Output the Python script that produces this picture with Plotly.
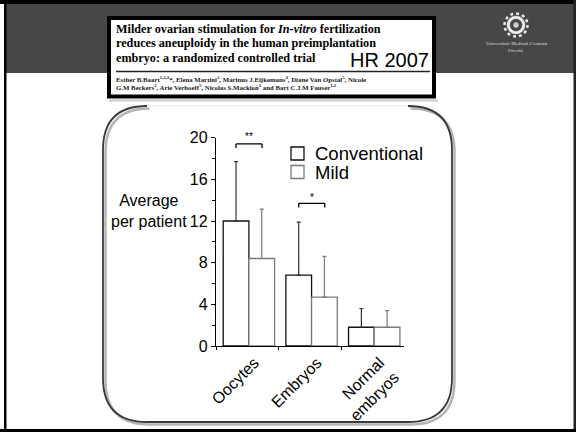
import plotly.graph_objects as go

W, H = 576, 432

# ---- data ----
categories = ["Oocytes", "Embryos", "Normal<br>embryos"]
conventional = [12.0, 6.8, 1.8]
conventional_sd = [5.7, 5.1, 1.8]
mild = [8.4, 4.7, 1.8]
mild_sd = [4.75, 3.9, 1.6]
y_ticks = [0, 4, 8, 12, 16, 20]
y_max = 20
series_names = ["Conventional", "Mild"]
title_lines = [
    "Milder ovarian stimulation for <i>In-vitro</i> fertilization",
    "reduces aneuploidy in the human preimplantation",
    "embryo: a randomized controlled trial",
]
author_lines = [
    "Esther B.Baart<sup>1,2,3</sup>*, Elena Martini<sup>2</sup>, Marinus J.Eijkemans<sup>4</sup>, Diane Van Opstal<sup>5</sup>, Nicole",
    "G.M Beckers<sup>2</sup>, Arie Verhoeff<sup>5</sup>, Nicolas S.Macklon<sup>1</sup> and Bart C.J.M Fauser<sup>1,2</sup>",
]
journal = "HR 2007"
significance = [("**", 0, 19.0, 19.4, 20.1), ("*", 1, 13.3, 13.7, 14.3)]

ARIAL = "Arial, Liberation Sans, sans-serif"
TIMES = "Times New Roman, Liberation Serif, serif"


def px(x):
    return x / W


def py(y):
    return 1 - y / H


def P(x, y):
    return f"{px(x):.5f},{py(y):.5f}"


fig = go.Figure()

fig.add_trace(go.Bar(
    name=series_names[0], x=categories, y=conventional,
    width=0.41, offset=-0.385,
    marker=dict(color="white", line=dict(color="#111111", width=1.3)),
    error_y=dict(type="data", symmetric=False, array=conventional_sd,
                 arrayminus=[0] * len(conventional), color="#333333",
                 thickness=1.2, width=2),
    showlegend=False,
))
fig.add_trace(go.Bar(
    name=series_names[1], x=categories, y=mild,
    width=0.41, offset=0.025,
    marker=dict(color="white", line=dict(color="#7a7a7a", width=1.3)),
    error_y=dict(type="data", symmetric=False, array=mild_sd,
                 arrayminus=[0] * len(mild), color="#7a7a7a",
                 thickness=1.2, width=2),
    showlegend=False,
))

shapes = []
annotations = []

# ---- slide background ----
shapes.append(dict(type="rect", xref="paper", yref="paper", x0=px(4), x1=px(576),
                   y0=py(73), y1=py(4), fillcolor="#474747", line_width=0, layer="below"))
shapes.append(dict(type="rect", xref="paper", yref="paper", x0=px(0), x1=px(576),
                   y0=py(4), y1=py(0), fillcolor="black", line_width=0, layer="below"))
shapes.append(dict(type="rect", xref="paper", yref="paper", x0=px(4), x1=px(6.5),
                   y0=py(432), y1=py(0), fillcolor="black", line_width=0, layer="below"))
shapes.append(dict(type="rect", xref="paper", yref="paper", x0=px(573.5), x1=px(576),
                   y0=py(432), y1=py(0), fillcolor="#222222", line_width=0, layer="below"))
shapes.append(dict(type="rect", xref="paper", yref="paper", x0=px(0), x1=px(576),
                   y0=py(432), y1=py(429), fillcolor="black", line_width=0, layer="below"))

# title box
shapes.append(dict(type="line", xref="paper", yref="paper", x0=px(109), x1=px(438),
                   y0=py(100.5), y1=py(100.5), line=dict(color="#cccccc", width=2), layer="below"))
shapes.append(dict(type="rect", xref="paper", yref="paper", x0=px(109), x1=px(434),
                   y0=py(96.5), y1=py(18), fillcolor="white",
                   line=dict(color="black", width=4), layer="below"))
shapes.append(dict(type="line", xref="paper", yref="paper", x0=px(116), x1=px(430),
                   y0=py(71.5), y1=py(71.5), line=dict(color="#222222", width=1.5), layer="below"))

# logo
cx, cy = 516, 25
for r, fc, lc, lw, dash in [(11.5, "#474747", "#e8e8e8", 2.5, "dot"),
                            (9, "#f0f0f0", "#f0f0f0", 0.5, "solid"),
                            (6, "#474747", "#474747", 0.5, "solid"),
                            (2.5, "#d0d0d0", "#d0d0d0", 0.5, "solid")]:
    shapes.append(dict(type="circle", xref="paper", yref="paper",
                       x0=px(cx - r), x1=px(cx + r), y0=py(cy + r), y1=py(cy - r),
                       fillcolor=fc, line=dict(color=lc, width=lw, dash=dash), layer="below"))
annotations.append(dict(xref="paper", yref="paper", x=px(516), y=py(43.5), text="Universitair Medisch Centrum",
                        showarrow=False, font=dict(family=TIMES, size=5, color="#dddddd"),
                        xanchor="center", yanchor="middle"))
annotations.append(dict(xref="paper", yref="paper", x=px(516), y=py(50.5), text="Utrecht",
                        showarrow=False, font=dict(family=TIMES, size=5, color="#dddddd"),
                        xanchor="center", yanchor="middle"))

# title text
for line, yy in zip(title_lines, [29, 43.5, 58]):
    annotations.append(dict(xref="paper", yref="paper", x=px(114), y=py(yy), text=f"<b>{line}</b>",
                            showarrow=False, font=dict(family=TIMES, size=12.2, color="black"),
                            xanchor="left", yanchor="middle"))
annotations.append(dict(xref="paper", yref="paper", x=px(431), y=py(60.5), text=journal,
                        showarrow=False, font=dict(family=ARIAL, size=20, color="black"),
                        xanchor="right", yanchor="middle"))
for line, yy in zip(author_lines, [78.5, 87]):
    annotations.append(dict(xref="paper", yref="paper", x=px(114), y=py(yy), text=f"<b>{line}</b>",
                            showarrow=False, font=dict(family=TIMES, size=6.8, color="#222222"),
                            xanchor="left", yanchor="middle"))

# rounded frame around chart
L, R, T, B, rad = 103, 452, 106, 422, 44


def frame_path(dx=0.0, dy=0.0):
    l, r, t, b = L + dx, R + dx, T + dy, B + dy
    return (f"M{P(l + rad, t)} Q{P(l, t)} {P(l, t + rad)} L{P(l, b - rad)} "
            f"Q{P(l, b)} {P(l + rad, b)} L{P(r - rad, b)} Q{P(r, b)} {P(r, b - rad)} "
            f"L{P(r, t + rad)} Q{P(r, t)} {P(r - rad, t)}")


shapes.append(dict(type="path", xref="paper", yref="paper", path=frame_path(2.5, 2.5),
                   line=dict(color="#b5b5b5", width=2.5), layer="below"))
shapes.append(dict(type="path", xref="paper", yref="paper", path=frame_path(),
                   line=dict(color="#3a3a3a", width=1.8), layer="below"))
shapes.append(dict(type="line", xref="paper", yref="paper", x0=px(L + rad), x1=px(R - rad),
                   y0=py(T), y1=py(T), line=dict(color="#e6e6e6", width=1.2), layer="below"))

# legend drawn manually
for name, yy, col in [(series_names[0], 153.5, "#111111"), (series_names[1], 172, "#7a7a7a")]:
    shapes.append(dict(type="rect", xref="paper", yref="paper", x0=px(291), x1=px(304),
                       y0=py(yy + 6.5), y1=py(yy - 6.5), fillcolor="white",
                       line=dict(color=col, width=1.3)))
    annotations.append(dict(xref="paper", yref="paper", x=px(313), y=py(yy), text=name,
                            showarrow=False, font=dict(family=ARIAL, size=18.5, color="black"),
                            xanchor="left", yanchor="middle"))

# y axis title
annotations.append(dict(xref="paper", yref="paper", x=px(149), y=py(211.5),
                        text="Average<br>per patient", showarrow=False,
                        font=dict(family=ARIAL, size=16, color="black"),
                        xanchor="center", yanchor="middle", align="center"))

# significance brackets
for stars, idx, ylo, yhi, ystar in significance:
    xa, xb = idx - 0.18, idx + 0.235
    for (x0, y0, x1, y1) in [(xa, ylo, xa, yhi), (xa, yhi, xb, yhi), (xb, yhi, xb, ylo)]:
        shapes.append(dict(type="line", xref="x", yref="y", x0=x0, x1=x1, y0=y0, y1=y1,
                           line=dict(color="black", width=1.3)))
    annotations.append(dict(xref="x", yref="y domain", x=(xa + xb) / 2, y=ystar / y_max, text=stars,
                            showarrow=False, font=dict(family=ARIAL, size=10, color="#000000"),
                            xanchor="center", yanchor="middle"))

fig.update_layout(
    width=W, height=H,
    margin=dict(l=0, r=0, t=0, b=0),
    paper_bgcolor="white", plot_bgcolor="rgba(0,0,0,0)",
    barmode="overlay",
    showlegend=False,
    shapes=shapes, annotations=annotations,
    font=dict(family=ARIAL, size=16, color="black"),
    xaxis=dict(domain=[px(216), px(404)], range=[-0.5, 2.5], showline=True, linecolor="black",
               linewidth=1.3, ticks="outside", ticklen=3, tickcolor="black", tickson="boundaries",
               tickangle=-45, ticklabelshift=7, tickfont=dict(family=ARIAL, size=16, color="black"),
               showgrid=False, zeroline=False, automargin=False, fixedrange=True),
    yaxis=dict(domain=[py(346), py(137.7)], range=[0, y_max], showline=True, linecolor="black",
               linewidth=1.3, ticks="outside", ticklen=4, tickcolor="black", tickvals=y_ticks,
               tickfont=dict(family=ARIAL, size=16, color="black"),
               minor=dict(dtick=2, ticks="outside", ticklen=3, tickcolor="black"),
               showgrid=False, zeroline=False, automargin=False, fixedrange=True),
)

fig.write_html("out.html", config={"displayModeBar": False},
               post_script="document.body.style.margin='0';document.body.style.overflow='hidden';")
